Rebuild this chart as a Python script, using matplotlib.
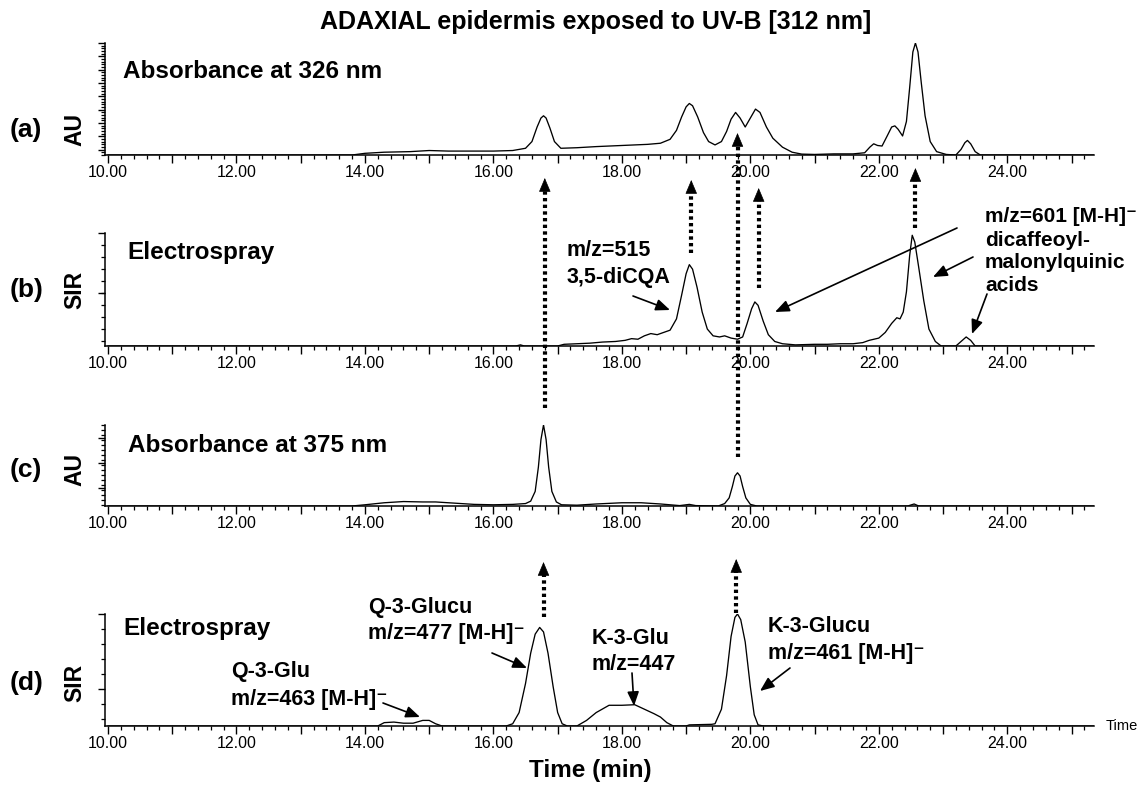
# -*- coding: UTF-8 -*-
import matplotlib
matplotlib.use('Agg')
import matplotlib.pyplot as plt
import numpy as np
from matplotlib.ticker import MultipleLocator, FixedLocator, FuncFormatter
from matplotlib.transforms import blended_transform_factory
from matplotlib.lines import Line2D

plt.rcParams['font.family'] = ['Liberation Sans', 'DejaVu Sans']

# ---- traces (time in min, signal in % of full scale) ----
a_time = [10.0, 13.8, 14.0, 14.3, 14.7, 15.0, 15.3, 15.7, 16.0, 16.3, 16.5, 16.6, 16.68, 16.74,
          16.78, 16.82, 16.88, 16.95, 17.05, 17.3, 17.6, 18.0, 18.4, 18.6, 18.75, 18.85, 18.93,
          19.0, 19.05, 19.1, 19.18, 19.27, 19.35, 19.45, 19.55, 19.63, 19.7, 19.77, 19.84, 19.92,
          20.0, 20.08, 20.15, 20.25, 20.35, 20.5, 20.65, 20.8, 21.0, 21.3, 21.6, 21.78, 21.86,
          21.92, 21.98, 22.05, 22.13, 22.2, 22.25, 22.3, 22.37, 22.43, 22.48, 22.53, 22.57, 22.61,
          22.66, 22.72, 22.8, 22.9, 23.05, 23.2, 23.28, 23.34, 23.38, 23.43, 23.5, 23.58, 25.35]
a_sig = [0, 0, 1.5, 2.5, 3, 4, 3.5, 3.5, 3.5, 4, 6, 12, 25, 33,
         35, 33, 24, 12, 6, 6.5, 7.5, 8.5, 9.5, 10.5, 14, 22, 34,
         43, 46, 44, 34, 20, 12, 9, 12, 21, 32, 38, 33, 25,
         33, 41, 38, 25, 15, 7, 2.5, 0.8, 0.5, 1, 1, 2, 7,
         10, 8.5, 8, 17, 25, 26, 23, 17, 30, 60, 92, 100, 92,
         65, 35, 12, 3, 0.5, 0, 5, 11, 13, 10, 3, 0, 0]

b_time = [10.0, 16.35, 16.42, 16.48, 17.0, 17.1, 17.3, 17.5, 17.7, 17.9, 18.05, 18.15, 18.25,
          18.35, 18.45, 18.55, 18.65, 18.75, 18.85, 18.93, 19.0, 19.05, 19.1, 19.17, 19.25,
          19.33, 19.42, 19.52, 19.6, 19.7, 19.8, 19.88, 19.95, 20.02, 20.07, 20.12, 20.2, 20.28,
          20.38, 20.5, 20.7, 21.0, 21.2, 21.4, 21.6, 21.75, 21.85, 22.0, 22.1, 22.2, 22.28, 22.33,
          22.38, 22.43, 22.48, 22.52, 22.56, 22.62, 22.7, 22.78, 22.88, 22.97, 23.2, 23.28,
          23.36, 23.43, 23.5, 25.35]
b_sig = [0, 0, 1, 0, 0, 1.5, 2, 2.5, 3.5, 4, 5, 6.5, 6,
         9, 11, 10, 12, 14, 24, 45, 64, 72, 68, 52, 30,
         15, 9, 8, 9, 7, 6, 8, 20, 33, 39, 36, 22, 10,
         4, 2, 1, 1.5, 1.5, 2, 2, 3, 5, 7, 12, 20, 25, 24,
         30, 48, 80, 98, 92, 70, 40, 15, 4, 0, 0, 4,
         8, 5, 0, 0]

c_time = [10.0, 13.8, 14.0, 14.3, 14.6, 14.9, 15.1, 15.4, 15.7, 16.0, 16.3, 16.5, 16.58, 16.65,
          16.7, 16.74, 16.78, 16.82, 16.86, 16.91, 16.98, 17.06, 17.3, 17.6, 18.0, 18.3, 18.6,
          18.9, 19.05, 19.15, 19.5, 19.6, 19.67, 19.72, 19.76, 19.8, 19.84, 19.88, 19.93, 20.0,
          20.1, 22.45, 22.55, 22.62, 25.35]
c_sig = [0, 0, 1.5, 4, 5.5, 5, 5, 3.5, 2, 1.5, 2, 3, 6, 18,
         48, 82, 100, 82, 48, 18, 5, 1.5, 1, 2.5, 4, 4, 2.5,
         0.5, 2, 0.5, 0, 3, 10, 24, 37, 41, 37, 24, 10, 2,
         0, 0, 2.5, 0, 0]

d_time = [10.0, 14.2, 14.3, 14.45, 14.6, 14.75, 14.9, 15.0, 15.1, 15.2, 16.2, 16.3, 16.4, 16.5,
          16.58, 16.65, 16.72, 16.78, 16.85, 16.93, 17.0, 17.07, 17.15, 17.3, 17.45, 17.6, 17.8,
          18.0, 18.2, 18.35, 18.5, 18.6, 18.7, 18.8, 19.0, 19.05, 19.4, 19.45, 19.55, 19.63,
          19.7, 19.76, 19.8, 19.85, 19.92, 20.0, 20.06, 20.12, 20.2, 25.35]
d_sig = [0, 0, 3, 3.5, 2.5, 2.5, 5, 5, 2, 0, 0, 2, 12, 38,
         65, 82, 88, 84, 65, 35, 12, 2, 0, 0, 5, 12, 18.5,
         18.5, 19, 15, 11, 8, 3, 0, 0, 1, 1.5, 2, 15, 45,
         80, 97, 100, 95, 75, 35, 10, 1, 0, 0]

panel_tags = ['(a)', '(b)', '(c)', '(d)']
panel_units = ['AU', 'SIR', 'AU', 'SIR']
panel_titles = ['Absorbance at 326 nm', 'Electrospray', 'Absorbance at 375 nm', 'Electrospray']

W, H = 1142, 787
fig = plt.figure(figsize=(W / 100, H / 100), dpi=100)


def fx(px):
    return px / W


def fy(py):
    return 1 - py / H


# axes boxes in pixels: (top, bottom)
boxes = [(43, 155), (233, 346), (425, 506), (614, 726)]
left, right = 105, 1094
# y tick layout per panel: (major start, major step, minor step)
yticks = [(100, 11.9, 2.38), (100, 53.1, 10.6), (84, 31, 6.2), (100, 67, 13.4)]

traces = [(a_time, a_sig), (b_time, b_sig), (c_time, c_sig), (d_time, d_sig)]
axes = []
for i, (top, bot) in enumerate(boxes):
    ax = fig.add_axes([fx(left), fy(bot), fx(right - left), (bot - top) / H])
    t, s = traces[i]
    ax.plot(t, s, color='black', lw=0.95, solid_joinstyle='round')
    ax.set_xlim(9.953, 25.35)
    ax.set_ylim(0, 100)
    for sp in ['top', 'right']:
        ax.spines[sp].set_visible(False)
    ax.spines['left'].set_linewidth(1.1)
    ax.spines['bottom'].set_linewidth(1.1)
    ax.xaxis.set_major_locator(MultipleLocator(1))
    ax.xaxis.set_minor_locator(MultipleLocator(0.2))
    ax.xaxis.set_major_formatter(FuncFormatter(lambda v, p: '%.2f' % v if round(v) % 2 == 0 else ''))
    ax.tick_params(axis='x', which='major', length=5.5, width=1.0, labelsize=11.5, pad=2)
    ax.tick_params(axis='x', which='minor', length=3, width=0.9)
    m0, mstep, nstep = yticks[i]
    ax.yaxis.set_major_locator(FixedLocator(np.arange(m0, 0, -mstep)))
    ax.yaxis.set_minor_locator(FixedLocator(np.arange(100, 0, -nstep)))
    ax.tick_params(axis='y', which='major', length=5, width=1.0, labelleft=False)
    ax.tick_params(axis='y', which='minor', length=3, width=0.9)
    axes.append(ax)

ax_a, ax_b, ax_c, ax_d = axes

# ---- panel labels ----
tag_y = [130, 290, 470, 683]
title_pos = [(123, 72), (127, 253), (128, 446), (123, 629)]
for i in range(4):
    fig.text(fx(10), fy(tag_y[i]), panel_tags[i], fontsize=19, fontweight='bold', va='center', ha='left')
    fig.text(fx(75), fy(tag_y[i]), panel_units[i], fontsize=16.5, fontweight='bold', va='center',
             ha='center', rotation=90)
    fig.text(fx(title_pos[i][0]), fy(title_pos[i][1]), panel_titles[i], fontsize=17.5,
             fontweight='bold', va='center', ha='left')

fig.text(fx(596), fy(22), 'ADAXIAL epidermis exposed to UV-B [312 nm]', fontsize=18,
         fontweight='bold', ha='center', va='center')
fig.text(fx(590), fy(771), 'Time (min)', fontsize=17.5, fontweight='bold', ha='center', va='center')
fig.text(fx(1106), fy(726), 'Time', fontsize=10.5, ha='left', va='center')

# ---- dotted arrows linking peaks across panels ----
trx = blended_transform_factory(ax_a.transData, fig.transFigure)


def dotted_arrow(t, y_from, y_tip):
    head = 12
    fig.add_artist(Line2D([t, t], [fy(y_from), fy(y_tip + head - 1)], transform=trx, color='black',
                          lw=3.0, linestyle=(0, (0.8, 0.8)), dash_capstyle='butt'))
    ax_a.annotate('', xy=(t, fy(y_tip)), xycoords=trx, xytext=(t, fy(y_tip + head)), textcoords=trx,
                  arrowprops=dict(arrowstyle='-|>,head_length=0.9,head_width=0.38', color='black',
                                  lw=0.5, shrinkA=0, shrinkB=0), annotation_clip=False)


dotted_arrow(16.80, 408, 178)
dotted_arrow(19.08, 253, 180)
dotted_arrow(19.80, 457, 133)
dotted_arrow(20.13, 288, 188)
dotted_arrow(22.57, 228, 168)
dotted_arrow(16.78, 617, 562)
dotted_arrow(19.78, 613, 559)

# ---- solid annotation arrows ----


def arrow(x0, y0, x1, y1):
    fig.add_artist(matplotlib.patches.FancyArrowPatch(
        (fx(x0), fy(y0)), (fx(x1), fy(y1)), transform=fig.transFigure,
        arrowstyle='-|>,head_length=0.85,head_width=0.35', mutation_scale=10,
        color='black', lw=1.2, shrinkA=0, shrinkB=0))


def label(x, y, s, size=15.5):
    fig.text(fx(x), fy(y), s, fontsize=size, fontweight='bold', ha='left', va='center')


# panel (b)
label(567, 250, 'm/z=515')
label(567, 277, '3,5-diCQA')
arrow(633, 296, 670, 310)
label(985, 217, 'm/z=601 [M-H]\u207b', size=15)
label(985, 240, 'dicaffeoyl-', size=15)
label(985, 263, 'malonylquinic', size=15)
label(985, 286, 'acids', size=15)
arrow(957, 228, 775, 312)
arrow(973, 257, 933, 277)
arrow(987, 294, 972, 334)

# panel (d)
label(231, 672, 'Q-3-Glu')
label(231, 699, 'm/z=463 [M-H]\u207b')
arrow(383, 703, 420, 717)
label(368, 607, 'Q-3-Glucu')
label(368, 634, 'm/z=477 [M-H]\u207b')
arrow(492, 653, 527, 668)
label(592, 638, 'K-3-Glu')
label(592, 664, 'm/z=447')
arrow(632, 673, 634, 706)
label(768, 627, 'K-3-Glucu')
label(768, 654, 'm/z=461 [M-H]\u207b')
arrow(790, 668, 760, 691)

plt.savefig('out.png', dpi=100)
